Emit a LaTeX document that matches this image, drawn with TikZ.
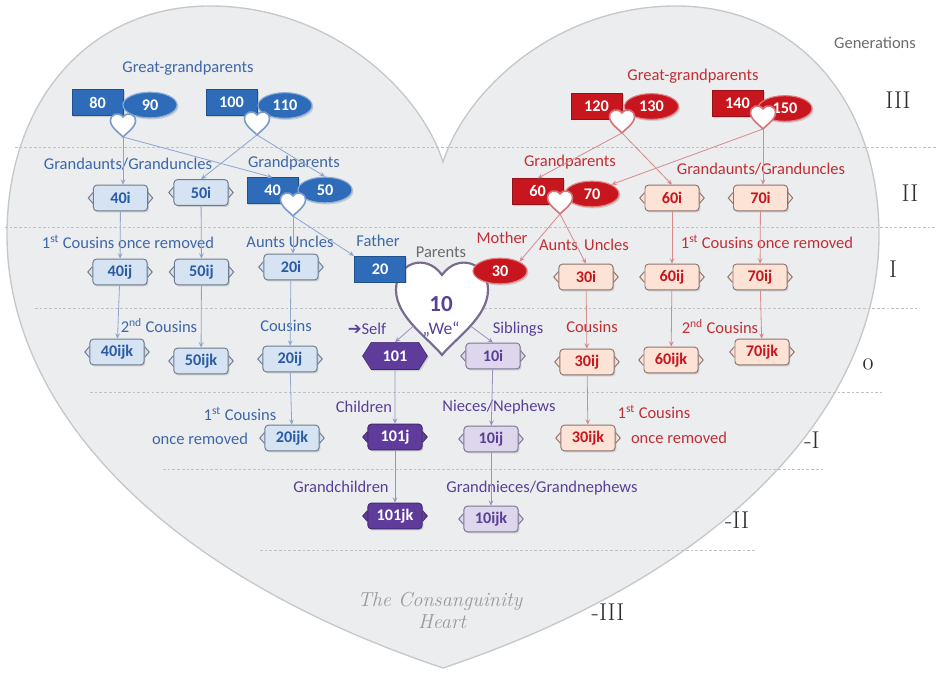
\documentclass[tikz,border=0pt]{standalone}
\usepackage{fontspec}
\setsansfont{Carlito}
\newfontfamily\arrowfont{DejaVu Sans}
\usetikzlibrary{arrows.meta,shapes.geometric,shapes.symbols,shadows}

\definecolor{heartbg}{HTML}{EBEDEF}
\definecolor{heartrim}{HTML}{C6C9CC}
\definecolor{dashgrey}{HTML}{C2C2C2}
\definecolor{bluedark}{HTML}{2E6BB9}
\definecolor{bluetext}{HTML}{3D67A8}
\definecolor{bluefill}{HTML}{D6E3F3}
\definecolor{blueedge}{HTML}{6E7C8E}
\definecolor{blueboxtext}{HTML}{2A5CA3}
\definecolor{bluelink}{HTML}{8FA7CD}
\definecolor{reddark}{HTML}{C8161E}
\definecolor{redtext}{HTML}{C22E33}
\definecolor{redfill}{HTML}{FCE3D6}
\definecolor{rededge}{HTML}{8E7470}
\definecolor{redlink}{HTML}{D98A8C}
\definecolor{purpledark}{HTML}{5F3C9B}
\definecolor{purpletext}{HTML}{5A3F97}
\definecolor{purplefill}{HTML}{DDD6EC}
\definecolor{purpleedge}{HTML}{7E7691}
\definecolor{purplelink}{HTML}{9C92BE}
\definecolor{greytext}{HTML}{6B6B6B}
\definecolor{gentext}{HTML}{2E2E2E}

\newcommand{\lblfont}{\sffamily\fontsize{12.2}{13}\selectfont}
\newcommand{\boxfont}{\sffamily\bfseries\fontsize{12}{12}\selectfont}
\newcommand{\genfont}{\rmfamily\fontsize{18}{18}\selectfont}
\newcommand{\oldzero}{{\usefont{OML}{lmm}{m}{it}0}}

\tikzset{
  lbl/.style     = {font=\lblfont, text=#1, inner sep=1pt},
  gen/.style     = {font=\genfont, text=gentext, inner sep=1pt},
  genrule/.style = {draw=dashgrey, dash pattern=on 2pt off 1.5pt, line width=0.6pt},
  kin/.style n args = {3}{rectangle, rounded corners=2.5pt, draw=#1, fill=#2, text=#3,
      line width=0.7pt, minimum width=40pt, minimum height=19pt, inner sep=1pt, font=\boxfont,
      drop shadow={shadow xshift=1pt, shadow yshift=-1.2pt, opacity=0.3},
      append after command={\pgfextra{
        \fill[#2] ([xshift=0.4pt,yshift=4pt]\tikzlastnode.west) -- ++(-3.9pt,-4pt) -- ++(3.9pt,-4pt) -- cycle
                  ([xshift=-0.4pt,yshift=4pt]\tikzlastnode.east) -- ++(3.9pt,-4pt) -- ++(-3.9pt,-4pt) -- cycle;
        \draw[#1, line width=0.7pt]
                  ([yshift=4pt]\tikzlastnode.west) -- ++(-3.5pt,-4pt) -- ++(3.5pt,-4pt)
                  ([yshift=4pt]\tikzlastnode.east) -- ++(3.5pt,-4pt) -- ++(-3.5pt,-4pt);}}},
  bluekin/.style   = {kin={blueedge}{bluefill}{blueboxtext}},
  redkin/.style    = {kin={rededge}{redfill}{reddark}},
  purplekin/.style = {kin={purpleedge}{purplefill}{purpletext}},
  selfkin/.style   = {kin={purpledark!70!black}{purpledark}{white}},
  parent/.style  = {rectangle, draw=#1!75!black, fill=#1, text=white, minimum width=38pt,
      minimum height=19pt, inner sep=1pt, font=\boxfont,
      drop shadow={shadow xshift=1pt, shadow yshift=-1.2pt, opacity=0.3}},
  spouse/.style  = {ellipse, draw=#1!55!white, line width=0.8pt, fill=#1, text=white,
      minimum width=40pt, minimum height=19pt, inner sep=0pt, font=\boxfont,
      drop shadow={shadow xshift=1pt, shadow yshift=-1.2pt, opacity=0.3}},
  selfhex/.style = {signal, signal to=west and east, signal pointer angle=115,
      fill=purpledark, draw=purpledark!70!black, text=white, minimum width=48pt,
      minimum height=20pt, inner sep=1pt, font=\boxfont,
      drop shadow={shadow xshift=1pt, shadow yshift=-1.2pt, opacity=0.3}},
  link/.style    = {draw=#1, line width=0.6pt, -{Stealth[length=4pt, width=3.5pt, inset=1.5pt]}},
  pics/knot/.style = {code={
      \draw[pic actions] (0,-1) .. controls (-0.25,-0.7) and (-1,-0.25) .. (-1,0.3)
          .. controls (-1,0.85) and (-0.35,1.05) .. (0,0.6)
          .. controls (0.35,1.05) and (1,0.85) .. (1,0.3)
          .. controls (1,-0.25) and (0.25,-0.7) .. (0,-1) -- cycle;
      \coordinate (-tip) at (0,-1);
      \coordinate (-sw)  at (-0.62,-0.42);
      \coordinate (-se)  at ( 0.62,-0.42);}}
}

\begin{document}
\begin{tikzpicture}[x=0.26cm, y=0.26cm]
    \useasboundingbox (0,0) rectangle (93.7,67.4);

    \path[fill=heartbg, draw=heartrim, line width=1pt]
        (44.3,0.6) .. controls (15.0,10.4) and (0.7,27.4) .. (0.7,43.9)
                   .. controls (0.7,57.4) and (9.0,66.8) .. (21.0,66.8)
                   .. controls (33.0,66.8) and (42.0,58.4) .. (44.3,51.2)
                   .. controls (46.6,58.4) and (55.6,66.8) .. (67.6,66.8)
                   .. controls (79.6,66.8) and (87.9,57.4) .. (87.9,43.9)
                   .. controls (87.9,27.4) and (73.6,10.4) .. (44.3,0.6) -- cycle;

    \draw[genrule] ( 1.5,52.7) -- (93.7,52.7);
    \draw[genrule] ( 0.5,44.7) -- (93.7,44.7);
    \draw[genrule] ( 3.5,36.6) -- (91.7,36.6);
    \draw[genrule] ( 9.0,28.2) -- (88.2,28.2);
    \draw[genrule] (16.3,20.5) -- (82.5,20.5);
    \draw[genrule] (26.0,12.4) -- (75.5,12.4);

    \node [lbl=greytext] (generations) at (87.5,63.1) {Generations};
    \node [gen] (g3)  at (89.8,57.4) {III};
    \node [gen] (g2)  at (91.0,48.1) {II};
    \node [gen] (g1)  at (89.3,40.5) {I};
    \node [gen] (g0)  at (86.8,31.0) {\oldzero};
    \node [gen] (gm1) at (81.2,23.4) {-I};
    \node [gen] (gm2) at (73.7,15.4) {-II};
    \node [gen] (gm3) at (60.8, 6.2) {-III};

    \pic [draw=purpleedge!80!purpledark, fill=white, line width=1.6pt, xscale=4.6, yscale=5.0] (we) at (44.2,36.9) {knot};
    \node [font=\sffamily\bfseries\fontsize{17}{17}\selectfont, text=purpletext] (ten) at (44.1,37.0) {10};
    \node [font=\sffamily\fontsize{13}{13}\selectfont, text=purpletext] (wetext) at (44.1,34.5) {„We“};

    \node [lbl=bluetext] (ggpL)    at (18.8,60.6) {Great-grandparents};
    \node [lbl=bluetext] (gauntL)  at (12.8,51.0) {Grandaunts/Granduncles};
    \node [lbl=bluetext] (gparL)   at (29.4,51.1) {Grandparents};
    \node [lbl=bluetext] (c1rL)    at (12.8,43.2) {1\textsuperscript{st} Cousins once removed};
    \node [lbl=bluetext] (auntL)   at (29.0,43.2) {Aunts Uncles};
    \node [lbl=bluetext] (father)  at (37.8,43.3) {Father};
    \node [lbl=bluetext] (c2L)     at (15.9,34.8) {2\textsuperscript{nd} Cousins};
    \node [lbl=bluetext] (cousL)   at (28.6,34.8) {Cousins};
    \node [lbl=bluetext] (c1L)     at (24.0,26.0) {1\textsuperscript{st} Cousins};
    \node [lbl=bluetext] (onceL)   at (20.0,23.5) {once removed};

    \node [lbl=greytext]   (parents)  at (44.1,42.2) {Parents};
    \node [lbl=redtext]    (mother)   at (50.2,43.6) {Mother};
    \node [lbl=purpletext] (selflbl)  at (36.7,34.5) {{\arrowfont ➔}Self};
    \node [lbl=purpletext] (siblings) at (51.8,34.5) {Siblings};
    \node [lbl=purpletext] (children) at (36.4,26.7) {Children};
    \node [lbl=purpletext] (nieces)   at (49.9,26.7) {Nieces/Nephews};
    \node [lbl=purpletext] (gchild)   at (34.1,18.7) {Grandchildren};
    \node [lbl=purpletext] (gnieces)  at (54.2,18.6) {Grandnieces/Grandnephews};

    \node [lbl=redtext] (ggpR)    at (69.3,59.8) {Great-grandparents};
    \node [lbl=redtext] (gparR)   at (57.0,51.2) {Grandparents};
    \node [lbl=redtext] (gauntR)  at (76.1,50.5) {Grandaunts/Granduncles};
    \node [lbl=redtext] (auntR)   at (58.4,42.9) {Aunts\, Uncles};
    \node [lbl=redtext] (c1rR)    at (76.7,43.2) {1\textsuperscript{st} Cousins once removed};
    \node [lbl=redtext] (cousR)   at (59.2,34.7) {Cousins};
    \node [lbl=redtext] (c2R)     at (72.0,34.7) {2\textsuperscript{nd} Cousins};
    \node [lbl=redtext] (c1R)     at (65.4,26.2) {1\textsuperscript{st} Cousins};
    \node [lbl=redtext] (onceR)   at (67.9,23.6) {once removed};

    \node [parent=bluedark] (p80)  at ( 9.75,57.15) {80};
    \node [spouse=bluedark] (p90)  at (15.0,56.9)   {90};
    \node [parent=bluedark] (p100) at (23.15,57.15) {100};
    \node [spouse=bluedark] (p110) at (28.5,56.85)  {110};
    \node [parent=bluedark] (p40)  at (27.25,48.35) {40};
    \node [spouse=bluedark] (p50)  at (32.5,48.4)   {50};
    \node [parent=bluedark] (p20)  at (38.0,40.5)   {20};

    \node [parent=reddark] (p120) at (59.65,56.8)  {120};
    \node [spouse=reddark] (p130) at (65.15,56.75) {130};
    \node [parent=reddark] (p140) at (73.75,57.05) {140};
    \node [spouse=reddark] (p150) at (78.5,56.55)  {150};
    \node [parent=reddark] (p60)  at (53.75,48.25) {60};
    \node [spouse=reddark] (p70)  at (59.2,48.0)   {70};
    \node [spouse=reddark] (p30)  at (50.0,40.3)   {30};

    \pic [draw=bluelink!80!bluedark, fill=white, line width=1.2pt, scale=1.25] (hL1) at (12.3,54.95) {knot};
    \pic [draw=bluelink!80!bluedark, fill=white, line width=1.2pt, scale=1.25] (hL2) at (25.7,55.15) {knot};
    \pic [draw=bluelink!80!bluedark, fill=white, line width=1.2pt, scale=1.25] (hL3) at (29.3,47.05) {knot};
    \pic [draw=redlink!80!reddark, fill=white, line width=1.2pt, scale=1.25] (hR1) at (62.2,55.35) {knot};
    \pic [draw=redlink!80!reddark, fill=white, line width=1.2pt, scale=1.25] (hR2) at (76.3,55.75) {knot};
    \pic [draw=redlink!80!reddark, fill=white, line width=1.2pt, scale=1.25] (hR3) at (56.0,47.25) {knot};

    \node [bluekin] (b40i)   at (12.05,47.6) {40i};
    \node [bluekin] (b50i)   at (20.1,48.15) {50i};
    \node [bluekin] (b40ij)  at (12.0,40.2)  {40ij};
    \node [bluekin] (b50ij)  at (20.15,40.2) {50ij};
    \node [bluekin] (b20i)   at (29.1,40.7)  {20i};
    \node [bluekin] (b40ijk) at (11.7,32.2)  {40ijk};
    \node [bluekin] (b50ijk) at (20.1,31.3)  {50ijk};
    \node [bluekin] (b20ij)  at (29.0,31.5)  {20ij};
    \node [bluekin] (b20ijk) at (29.2,23.6)  {20ijk};

    \node [selfhex]   (p101)   at (39.5,31.8) {101};
    \node [purplekin] (b10i)   at (49.3,31.8) {10i};
    \node [selfkin]   (b101j)  at (39.5,23.7) {101j};
    \node [purplekin] (b10ij)  at (49.1,23.5) {10ij};
    \node [selfkin]   (b101jk) at (39.5,15.8) {101jk};
    \node [purplekin] (b10ijk) at (49.1,15.5) {10ijk};

    \node [redkin] (b60i)   at (67.2,47.6) {60i};
    \node [redkin] (b70i)   at (76.05,47.6) {70i};
    \node [redkin] (b30i)   at (58.6,39.7) {30i};
    \node [redkin] (b60ij)  at (67.2,39.7) {60ij};
    \node [redkin] (b70ij)  at (76.0,39.7) {70ij};
    \node [redkin] (b30ij)  at (58.7,31.2) {30ij};
    \node [redkin] (b60ijk) at (67.1,31.4) {60ijk};
    \node [redkin] (b70ijk) at (76.2,32.2) {70ijk};
    \node [redkin] (b30ijk) at (58.8,23.6) {30ijk};

    \draw [link=bluelink] (hL1-tip) -- (hL1-tip |- b40i.north);
    \draw [link=bluelink] (hL1-tip) -- (p40.north);
    \draw [link=bluelink] (hL2-tip) -- (b50i.north);
    \draw [link=bluelink] (hL2-tip) -- (p50.north);
    \draw [link=bluelink] (hL3-tip) -- (hL3-tip |- b20i.north);
    \draw [link=bluelink] (hL3-tip) -- (p20.north west);
    \draw [link=bluelink] (b40i) -- (b40ij);
    \draw [link=bluelink] (b40ij) -- (b40ijk);
    \draw [link=bluelink] (b50i) -- (b50ij);
    \draw [link=bluelink] (b50ij) -- (b50ijk);
    \draw [link=bluelink] (b20i) -- (b20ij);
    \draw [link=bluelink] (b20ij) -- (b20ijk);

    \draw [link=purplelink] (we-sw) -- (p101.north);
    \draw [link=purplelink] (we-se) -- (b10i.north);
    \draw [link=purplelink] (p101) -- (b101j);
    \draw [link=purplelink] (b101j) -- (b101jk);
    \draw [link=purplelink] (b10i) -- (b10ij);
    \draw [link=purplelink] (b10ij) -- (b10ijk);

    \draw [link=redlink] (hR1-tip) -- (p60.north);
    \draw [link=redlink] (hR1-tip) -- (b60i.north);
    \draw [link=redlink] (hR2-tip) -- (p70.north east);
    \draw [link=redlink] (hR2-tip) -- (hR2-tip |- b70i.north);
    \draw [link=redlink] (hR3-tip) -- (p30.north east);
    \draw [link=redlink] (hR3-tip) -- (b30i.north);
    \draw [link=redlink] (b30i) -- (b30ij);
    \draw [link=redlink] (b30ij) -- (b30ijk);
    \draw [link=redlink] (b60i) -- (b60ij);
    \draw [link=redlink] (b60ij) -- (b60ijk);
    \draw [link=redlink] (b70i) -- (b70ij);
    \draw [link=redlink] (b70ij) -- (b70ijk);

    \node [font=\itshape\fontsize{15}{15}\selectfont, text=black!40] (title1) at (44.0,7.3) {The Consanguinity};
    \node [font=\itshape\fontsize{15}{15}\selectfont, text=black!40] (title2) at (44.2,5.2) {Heart};
\end{tikzpicture}
\end{document}
